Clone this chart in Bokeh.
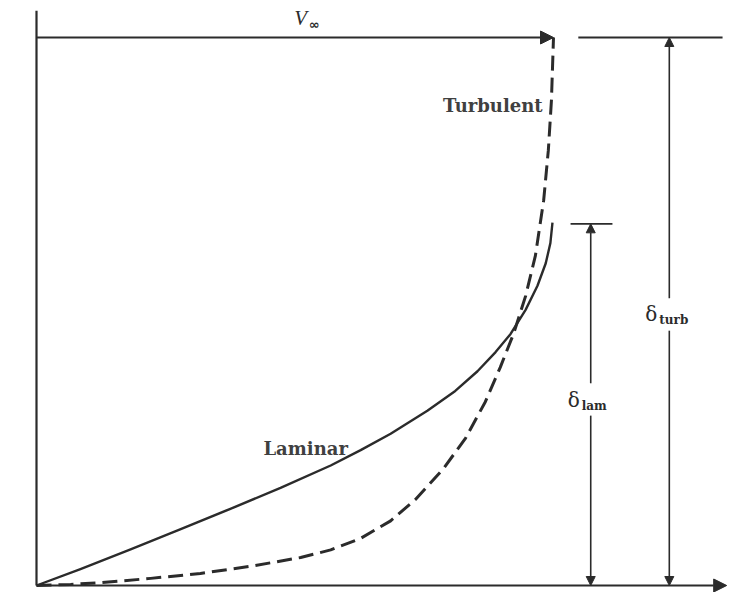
from bokeh.plotting import figure
from bokeh.models import Range1d, Arrow, NormalHead, Label
from bokeh.embed import file_html
from bokeh.resources import INLINE

# ---- data (u / V_inf on x, height above the wall on y, scaled by delta_turb) ----
V_inf = 1.0
delta_turb = 1.0
delta_lam = 0.66

u_turb = [0, 0.066, 0.124, 0.221, 0.317, 0.414, 0.511, 0.569, 0.627, 0.685,
          0.733, 0.787, 0.830, 0.868, 0.897, 0.923, 0.946, 0.965, 0.981, 0.990,
          0.996, 1.0]
y_turb = [0, 0.002, 0.005, 0.013, 0.022, 0.035, 0.051, 0.065, 0.086, 0.118,
          0.157, 0.213, 0.269, 0.335, 0.398, 0.460, 0.528, 0.602, 0.703, 0.794,
          0.885, 1.0]

u_lam = [0, 0.085, 0.182, 0.279, 0.375, 0.472, 0.569, 0.627, 0.685, 0.756,
         0.810, 0.853, 0.888, 0.917, 0.946, 0.969, 0.985, 0.994, 0.998]
y_lam = [0, 0.030, 0.066, 0.103, 0.140, 0.178, 0.219, 0.247, 0.277, 0.319,
         0.355, 0.391, 0.426, 0.459, 0.503, 0.547, 0.588, 0.625, 0.662]

labels = {"turb": "Turbulent", "lam": "Laminar"}

# ---- layout ----
INK = "#2b2b2b"
TXT = "#404040"
x_dim_lam = 1.072
x_dim_turb = 1.224

p = figure(width=740, height=592, output_backend="svg", toolbar_location=None,
           x_range=Range1d(-36 / 517, 704 / 517), y_range=Range1d(-7 / 548, 585 / 548),
           min_border=0, background_fill_color="white", border_fill_color="white")
p.outline_line_color = None
p.xaxis.visible = False
p.yaxis.visible = False
p.xgrid.visible = False
p.ygrid.visible = False

# axes drawn as lines
p.line([0, 0], [0, 1.049], line_color=INK, line_width=2.2)
p.add_layout(Arrow(end=NormalHead(size=13, fill_color=INK, line_color=INK),
                   x_start=0, y_start=0, x_end=1.335, y_end=0,
                   line_color=INK, line_width=2.2))

# V_inf arrow
p.add_layout(Arrow(end=NormalHead(size=13, fill_color=INK, line_color=INK),
                   x_start=0, y_start=delta_turb, x_end=V_inf, y_end=delta_turb,
                   line_color=INK, line_width=2))
p.add_layout(Label(x=0.511, y=1.035, text="V", text_font="Liberation Serif",
                   text_font_style="italic", text_font_size="21px",
                   text_align="center", text_baseline="middle", text_color=INK))
p.add_layout(Label(x=0.511, y=1.035, x_offset=8, y_offset=-6, text="∞",
                   text_font="DejaVu Sans", text_font_style="bold",
                   text_font_size="13px", text_align="left",
                   text_baseline="middle", text_color=INK))

# profiles
p.line(u_lam, y_lam, line_color=INK, line_width=2.4, line_join="round")
p.line(u_turb, y_turb, line_color=INK, line_width=3, line_dash="15 7",
       line_join="round")

p.add_layout(Label(x=0.979, y=0.876, text=labels["turb"], text_font="DejaVu Serif",
                   text_font_style="bold", text_font_size="18px", text_align="right",
                   text_baseline="middle", text_color=TXT))
p.add_layout(Label(x=0.439, y=0.25, text=labels["lam"], text_font="DejaVu Serif",
                   text_font_style="bold", text_font_size="18px", text_align="left",
                   text_baseline="middle", text_color=TXT))

# delta_turb dimension
p.line([1.048, 1.327], [delta_turb, delta_turb], line_color=INK, line_width=1.8)
head = dict(size=9)
p.add_layout(Arrow(end=NormalHead(fill_color=INK, line_color=INK, **head),
                   x_start=x_dim_turb, y_start=0.524, x_end=x_dim_turb, y_end=delta_turb,
                   line_color=INK, line_width=1.6))
p.add_layout(Arrow(end=NormalHead(fill_color=INK, line_color=INK, **head),
                   x_start=x_dim_turb, y_start=0.465, x_end=x_dim_turb, y_end=0,
                   line_color=INK, line_width=1.6))
p.add_layout(Label(x=x_dim_turb, y=0.496, x_offset=-18, text="δ",
                   text_font="DejaVu Serif", text_font_size="20px", text_align="center",
                   text_baseline="middle", text_color=INK))
p.add_layout(Label(x=x_dim_turb, y=0.496, x_offset=-10, y_offset=-6, text="turb",
                   text_font="DejaVu Serif", text_font_style="bold",
                   text_font_size="12px", text_align="left",
                   text_baseline="middle", text_color=INK))

# delta_lam dimension
p.line([1.033, 1.114], [delta_lam, delta_lam], line_color=INK, line_width=1.8)
p.add_layout(Arrow(end=NormalHead(fill_color=INK, line_color=INK, **head),
                   x_start=x_dim_lam, y_start=0.369, x_end=x_dim_lam, y_end=delta_lam,
                   line_color=INK, line_width=1.6))
p.add_layout(Arrow(end=NormalHead(fill_color=INK, line_color=INK, **head),
                   x_start=x_dim_lam, y_start=0.310, x_end=x_dim_lam, y_end=0,
                   line_color=INK, line_width=1.6))
p.add_layout(Label(x=x_dim_lam, y=0.338, x_offset=-17, text="δ",
                   text_font="DejaVu Serif", text_font_size="20px", text_align="center",
                   text_baseline="middle", text_color=INK))
p.add_layout(Label(x=x_dim_lam, y=0.338, x_offset=-9, y_offset=-6, text="lam",
                   text_font="DejaVu Serif", text_font_style="bold",
                   text_font_size="12px", text_align="left",
                   text_baseline="middle", text_color=INK))

open("out.html", "w").write(file_html(p, INLINE))
